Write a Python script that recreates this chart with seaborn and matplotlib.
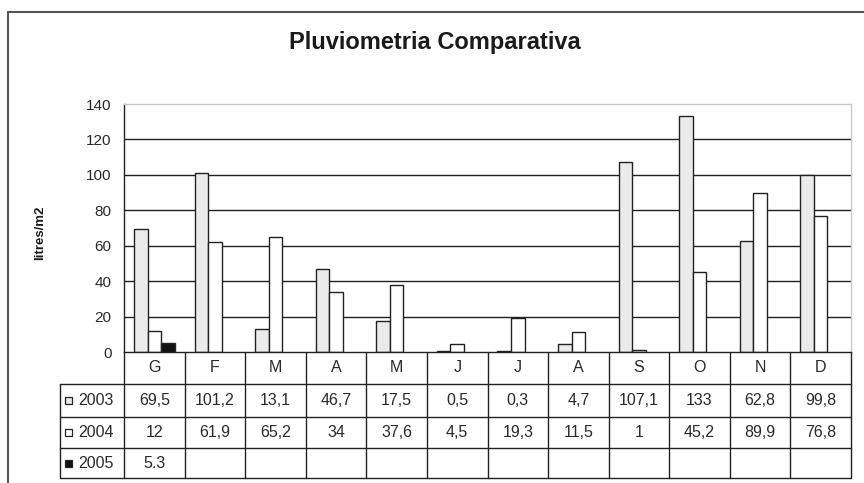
import matplotlib
matplotlib.use("Agg")
import matplotlib.pyplot as plt
import seaborn as sns
import pandas as pd
from matplotlib.patches import Rectangle
from matplotlib.lines import Line2D
from matplotlib.text import Text
from matplotlib.transforms import blended_transform_factory

# ---- data ----
months = ["G", "F", "M", "A", "M", "J", "J", "A", "S", "O", "N", "D"]
years = ["2003", "2004", "2005"]
v2003 = [69.5, 101.2, 13.1, 46.7, 17.5, 0.5, 0.3, 4.7, 107.1, 133, 62.8, 99.8]
v2004 = [12, 61.9, 65.2, 34, 37.6, 4.5, 19.3, 11.5, 1, 45.2, 89.9, 76.8]
v2005 = [5.3, None, None, None, None, None, None, None, None, None, None, None]
decimal_sep = {"2003": ",", "2004": ",", "2005": "."}
yticks = [0, 20, 40, 60, 80, 100, 120, 140]

title = "Pluviometria Comparativa"
ylabel = "litres/m2"

series = {"2003": v2003, "2004": v2004, "2005": v2005}
rows = []
for y in years:
    for i, v in enumerate(series[y]):
        if v is not None:
            rows.append({"m": i, "v": v, "year": y})
df = pd.DataFrame(rows)

# ---- style ----
sns.set_theme(style="white")
FAM = ["Liberation Sans", "DejaVu Sans"]
plt.rcParams["font.family"] = FAM

W, H = 864, 483
fig = plt.figure(figsize=(W / 100, H / 100), dpi=100)
fig.patch.set_facecolor("white")


def fx(px):
    return px / W


def fy(py):
    return 1 - py / H


ax_l, ax_r, ax_t, ax_b = 124, 851, 104, 352
ax = fig.add_axes([fx(ax_l), fy(ax_b), fx(ax_r) - fx(ax_l), fy(ax_t) - fy(ax_b)])

fills = {"2003": "#ebebeb", "2004": "#ffffff", "2005": "#111111"}
edge = "#222222"
txtc = "#2a2a2a"

sns.barplot(data=df, x="m", y="v", hue="year", hue_order=years,
            order=list(range(12)), palette=[fills[y] for y in years],
            width=0.67, edgecolor=edge, linewidth=1.0, saturation=1,
            errorbar=None, legend=False, ax=ax, zorder=2)

ax.set_xlim(-0.5, 11.5)
ax.set_ylim(0, 140)
ax.set_yticks(yticks)
ax.set_yticklabels([str(t) for t in yticks])
for t in yticks[1:-1]:
    ax.axhline(t, color="#222222", lw=1.0, zorder=0.5)
ax.set_xticks([])
ax.set_xlabel("")
ax.set_ylabel("")
ax.tick_params(axis="y", direction="out", length=6, width=1, color="#222222",
               pad=3, labelsize=11, labelcolor=txtc)
for s in ["left", "bottom"]:
    ax.spines[s].set_color("#222222")
    ax.spines[s].set_linewidth(1.0)
for s in ["top", "right"]:
    ax.spines[s].set_color("#c8c8c8")
    ax.spines[s].set_linewidth(1.0)

# ---- data table ----
row_y = [352, 384, 417, 448, 478]
leg_left = 60
lc = "#222222"
tfs = 11.5
trans = blended_transform_factory(ax.transData, fig.transFigure)

for py in row_y[1:]:
    fig.add_artist(Line2D([fx(leg_left), fx(ax_r)], [fy(py), fy(py)], color=lc, lw=1.0))
for i in range(13):
    xb = -0.5 + i
    fig.add_artist(Line2D([xb, xb], [fy(row_y[0]), fy(row_y[-1])], color=lc, lw=1.0,
                          transform=trans))
fig.add_artist(Line2D([fx(leg_left), fx(leg_left)], [fy(row_y[1]), fy(row_y[-1])],
                      color=lc, lw=1.0))

hy = fy((row_y[0] + row_y[1]) / 2)
for i, m in enumerate(months):
    fig.add_artist(Text(i, hy, m, transform=trans, fontsize=tfs, color=txtc,
                        ha="center", va="center", fontfamily=FAM))


def fmt(v, sep):
    if v is None:
        return ""
    return f"{v:g}".replace(".", sep)


for r, y in enumerate(years):
    cy = fy((row_y[r + 1] + row_y[r + 2]) / 2)
    ks = 7
    fig.add_artist(Rectangle((fx(65), cy - (ks / H) / 2), ks / W, ks / H,
                             facecolor=fills[y], edgecolor=lc, lw=0.9,
                             transform=fig.transFigure))
    fig.text(fx(78), cy, y, fontsize=tfs, color=txtc, ha="left", va="center")
    for i, v in enumerate(series[y]):
        txt = fmt(v, decimal_sep[y])
        if txt:
            fig.add_artist(Text(i, cy, txt, transform=trans, fontsize=tfs,
                                color=txtc, ha="center", va="center", fontfamily=FAM))

# ---- titles and frame ----
fig.text(fx(435), fy(43), title, fontsize=17, fontweight="bold",
         color="#1a1a1a", ha="center", va="center")
fig.text(fx(40), fy(233), ylabel, fontsize=9.5, fontweight="bold", rotation=90,
         color="#1a1a1a", ha="center", va="center")
fig.add_artist(Line2D([fx(8), fx(8)], [fy(12), fy(483)], color="#555555", lw=1.5))
fig.add_artist(Line2D([fx(8), fx(864)], [fy(12), fy(12)], color="#555555", lw=1.5))

fig.savefig("out.png", dpi=100, facecolor="white")
